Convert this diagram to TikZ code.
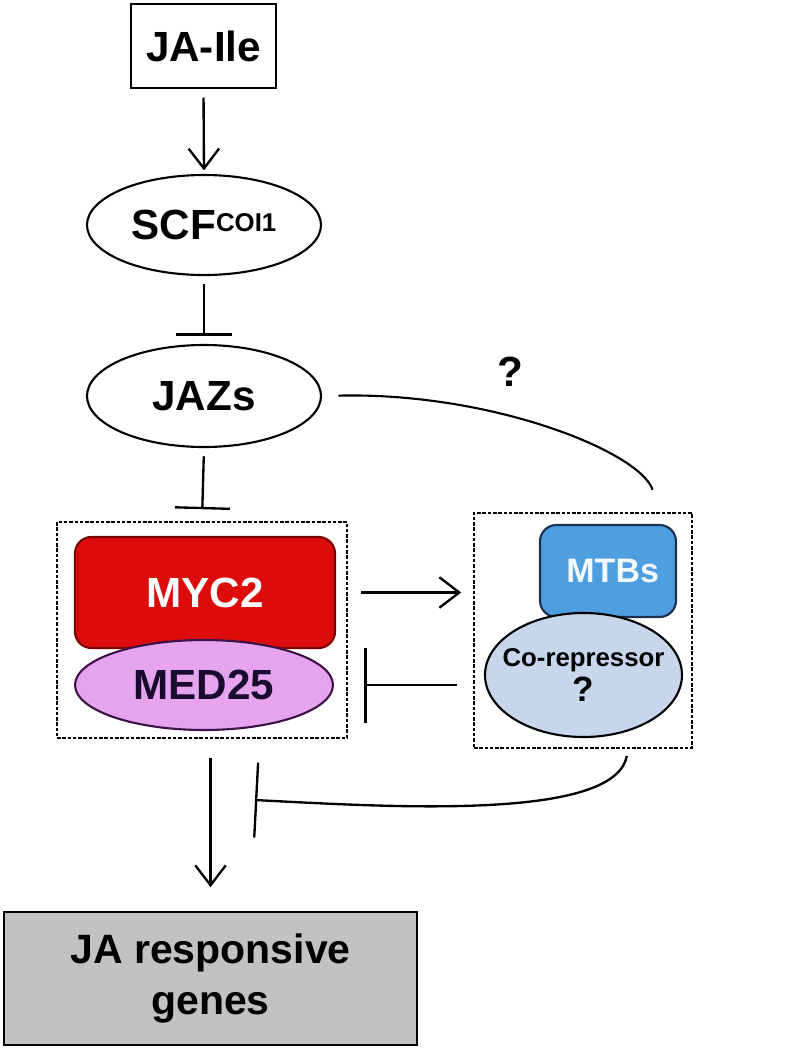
\documentclass[tikz,border=0pt]{standalone}
\usepackage{fontspec}
\setmainfont{Liberation Sans}
\usepackage{tikz}
\usetikzlibrary{positioning, arrows.meta, shapes.geometric}
\definecolor{mycred}{HTML}{DC0C0C}
\definecolor{mycedge}{HTML}{7A0000}
\definecolor{medfill}{HTML}{E6A3EE}
\definecolor{mededge}{HTML}{3D1248}
\definecolor{medink}{HTML}{1A0A2E}
\definecolor{mtbfill}{HTML}{4E9EE0}
\definecolor{mtbedge}{HTML}{1B2F4F}
\definecolor{mtbink}{HTML}{F2FAFF}
\definecolor{corepfill}{HTML}{C7D6EC}
\definecolor{genefill}{HTML}{C2C2C2}
\newcommand\labfont{\fontsize{36}{40}\selectfont\bfseries}
\newcommand\midfont{\fontsize{29}{32}\selectfont\bfseries}
\newcommand\smfont{\fontsize{22}{32}\selectfont\bfseries}
\tikzset{
  plain/.style = {rectangle, draw=black, line width=2.4pt, inner sep=0pt,
                  align=center, font=\labfont},
  oval/.style  = {ellipse, draw=black, line width=1.8pt, inner sep=0pt,
                  align=center, font=\labfont},
  cplx/.style  = {rectangle, draw=black, line width=1.8pt,
                  dash pattern=on 3pt off 1.5pt, inner sep=0pt},
  prot/.style  = {rectangle, rounded corners=14pt, line width=1.8pt,
                  inner sep=0pt, align=center},
  act/.style   = {-{Straight Barb[length=17pt,width=26pt]}, line width=2pt},
  inh/.style   = {-{Bar[width=47pt]}, line width=2pt},
  inhw/.style  = {-{Bar[width=64pt]}, line width=2pt},
  link/.style  = {line width=1.8pt},
}
\begin{document}
\begin{tikzpicture}[x=0.03cm, y=-0.03cm]
  \useasboundingbox (0,0) rectangle (789,1051);

  \node[plain, minimum width=4.35cm, minimum height=2.52cm] (jaile) at (203.5,46) {JA-Ile};
  \node[oval, minimum width=7.02cm, minimum height=3.0cm] (scf) at (204,225)
       {SCF{\fontsize{22}{22}\selectfont\raisebox{7pt}{COI1}}};
  \node[oval, minimum width=7.02cm, minimum height=3.06cm] (jazs) at (204,396) {JAZs};

  % MYC2 / MED25 complex
  \node[cplx, minimum width=8.7cm, minimum height=6.48cm] (cplxL) at (202,630) {};
  \node[prot, fill=mycred, draw=mycedge, minimum width=7.8cm, minimum height=3.33cm,
        font=\labfont, text=white] (myc) at (205,592.5) {MYC2};
  \node[oval, fill=medfill, draw=mededge, text=medink, minimum width=7.74cm,
        minimum height=2.7cm] (med) at (204,685) {MED25};

  % MTBs / co-repressor complex
  \node[cplx, minimum width=6.54cm, minimum height=7.05cm] (cplxR) at (583,630.5) {};
  \node[prot, fill=mtbfill, draw=mtbedge, minimum width=4.08cm, minimum height=2.76cm,
        font=\midfont, text=mtbink] (mtb) at (608,571) {\hspace*{8pt}MTBs};
  \node[oval, fill=corepfill, minimum width=5.91cm, minimum height=3.72cm,
        label={[font=\smfont, align=center]center:Co-repressor\\[-2pt]{\fontsize{30}{30}\selectfont ?}}]
       (corep) at (583.5,675) {};

  \node[plain, fill=genefill, minimum width=12.39cm, minimum height=3.99cm,
        font=\fontsize{35}{43}\selectfont\bfseries] (genes) at (210.5,978.5)
       {JA responsive\\genes};

  \node[font=\labfont] (qmark) at (510,372) {?};
  \coordinate (barpt) at (255,800);

  \draw[act, shorten <=7pt, shorten >=3pt] (jaile.south) -- (scf.north);
  \draw[inh, shorten <=7pt, shorten >=7pt] (scf.south) -- (jazs.north);
  \draw[inh, shorten <=7pt, shorten >=10pt] (jazs.south) -- (cplxL.north);
  \draw[act, shorten <=11pt, shorten >=10pt] (cplxL.east |- myc) -- (cplxR.west |- myc);
  \draw[inhw, shorten <=14pt, shorten >=14pt] (cplxR.west |- med) -- (cplxL.east |- med);
  \draw[link, shorten <=14pt, shorten >=20pt] (jazs.east)
       .. controls +(170,-4) and +(-20,-60) .. ([xshift=2.31cm]cplxR.north);
  \draw[inhw, shorten <=6pt] ([xshift=1.35cm]cplxR.south)
       .. controls +(-13,72) and +(135,7) .. (barpt);
  \draw[act, shorten <=16pt, shorten >=20pt] (genes.north |- cplxL.south) -- (genes.north);

\end{tikzpicture}
\end{document}
